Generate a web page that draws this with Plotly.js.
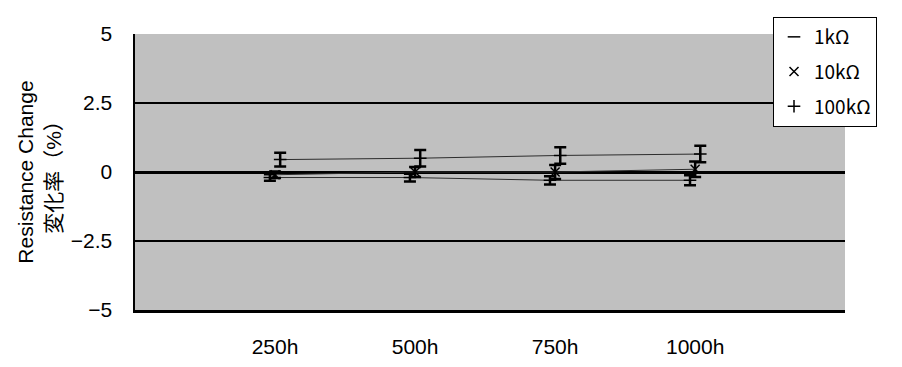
<!DOCTYPE html>
<html>
<head>
<meta charset="utf-8">
<script src="https://cdn.plot.ly/plotly-3.0.1.min.js"></script>
<style>html,body{margin:0;padding:0;background:#fff;}#chart{width:902px;height:367px;}</style>
</head>
<body>
<div id="chart"></div>
<script>
const categories = ['250h', '500h', '750h', '1000h'];
const seriesNames = ['1kΩ', '10kΩ', '100kΩ'];
const v1k = [-0.20, -0.20, -0.30, -0.30];
const e1k = [0.12, 0.14, 0.15, 0.18];
const v10k = [-0.10, 0.00, 0.00, 0.10];
const e10k = [0.12, 0.18, 0.25, 0.28];
const v100k = [0.45, 0.50, 0.60, 0.65];
const e100k = [0.25, 0.30, 0.30, 0.30];
const symbols = ['line-ew', 'x-thin', 'cross-thin'];
const yTicks = [-5, -2.5, 0, 2.5, 5];

const font = 'Liberation Sans, Arial, Noto Sans CJK JP, sans-serif';
const cjk = 'Noto Sans CJK JP, Liberation Sans, sans-serif';
const vals = [v1k, v10k, v100k];
const errs = [e1k, e10k, e100k];
const traces = [];
vals.forEach((v, i) => {
  traces.push({
    type: 'scatter', mode: 'lines', x: categories, y: v,
    offsetgroup: 'g' + i, showlegend: false, hoverinfo: 'skip',
    line: {color: 'rgb(45,45,45)', width: 1}
  });
});
vals.forEach((v, i) => {
  traces.push({
    type: 'scatter', mode: 'markers', x: categories, y: v,
    name: seriesNames[i], offsetgroup: 'g' + i, legendgroup: 'g' + i,
    marker: {symbol: symbols[i], size: 9, color: 'black', line: {color: 'black', width: 1.5}},
    error_y: {type: 'data', array: errs[i], visible: true, color: 'black', thickness: 2.5, width: 6}
  });
});

const layout = {
  width: 902, height: 367,
  margin: {l: 135, r: 57, t: 34, b: 57},
  paper_bgcolor: 'white', plot_bgcolor: '#C0C0C0',
  font: {family: font, color: 'black', size: 20},
  scattermode: 'group', scattergap: 0.89,
  showlegend: true,
  legend: {
    x: 0.8986, xanchor: 'left', y: 1.0616, yanchor: 'top',
    bgcolor: 'white', bordercolor: 'black', borderwidth: 1,
    font: {family: cjk, size: 19, color: 'black'},
    traceorder: 'grouped', tracegroupgap: 7, itemwidth: 30
  },
  xaxis: {
    type: 'category', categoryorder: 'array', categoryarray: categories,
    range: [-1.0, 4.07],
    showgrid: false, zeroline: false,
    showline: true, linecolor: 'black', linewidth: 2.5,
    ticks: '', ticklabelstandoff: 16,
    tickfont: {family: font, size: 21, color: 'black'}
  },
  yaxis: {
    range: [-5, 5], tickvals: yTicks, ticktext: yTicks.map(t => (t < 0 ? '\u2212' : '') + Math.abs(t)),
    showgrid: true, gridcolor: 'black', gridwidth: 2,
    zeroline: true, zerolinecolor: 'black', zerolinewidth: 3,
    showline: true, linecolor: 'black', linewidth: 2.5,
    ticks: '', ticklabelstandoff: 16,
    tickfont: {family: font, size: 21, color: 'black'},
    title: {text: 'Resistance Change<br>変化率（%）', standoff: 4, font: {family: font, size: 21, color: 'black'}}
  }
};

Plotly.newPlot('chart', traces, layout, {displayModeBar: false, staticPlot: true});
</script>
</body>
</html>
